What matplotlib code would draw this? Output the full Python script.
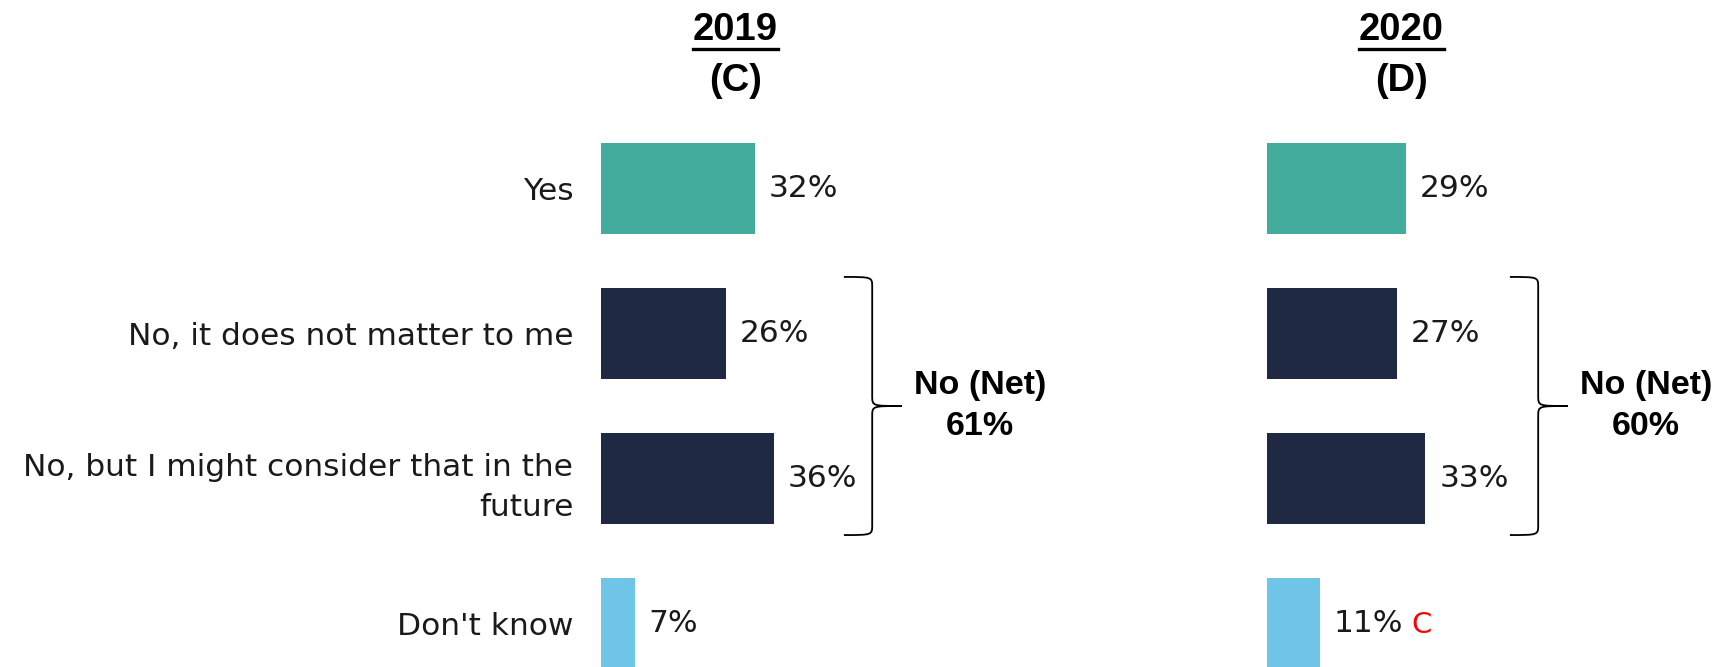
import matplotlib
matplotlib.use("Agg")
import matplotlib.pyplot as plt
from matplotlib.path import Path
from matplotlib.patches import PathPatch
from matplotlib.lines import Line2D

# donnees
categories = ["Yes", "No, it does not matter to me",
              "No, but I might consider that in the\nfuture", "Don't know"]
years = ["2019", "2020"]
codes = ["(C)", "(D)"]
vals_2019 = [32, 26, 36, 7]
vals_2020 = [29, 27, 33, 11]
net_2019 = 61
net_2020 = 60
colors = ["#43AC9C", "#202944", "#202944", "#6EC5E8"]

W, H = 1729, 667
fig = plt.figure(figsize=(W / 100, H / 100), dpi=100)

lab_font = ["DejaVu Sans"]
bold_font = ["Liberation Sans", "DejaVu Sans"]
lab_size = 22.5


def brace(ax, x0, xm, x1, yt, ym, yb, r=0.07):
    verts = [(x0, yt), (xm, yt), (xm, yt), (xm, yt + r),
             (xm, ym - r), (xm, ym), (xm, ym), (x1, ym),
             (xm, ym), (xm, ym), (xm, ym + r),
             (xm, yb - r), (xm, yb), (xm, yb), (x0, yb)]
    codes_ = [Path.MOVETO, Path.CURVE4, Path.CURVE4, Path.CURVE4,
              Path.LINETO, Path.CURVE4, Path.CURVE4, Path.CURVE4,
              Path.CURVE4, Path.CURVE4, Path.CURVE4,
              Path.LINETO, Path.CURVE4, Path.CURVE4, Path.CURVE4]
    ax.add_patch(PathPatch(Path(verts, codes_), fc="none", ec="black",
                           lw=1.3, clip_on=False))


pos = [0, 1, 2, 3]
lefts = [601, 1267]
titles = []
for k, (vals, net) in enumerate([(vals_2019, net_2019), (vals_2020, net_2020)]):
    ax = fig.add_axes([lefts[k] / W, -29 / H, 288 / W, 580 / H])
    bars = ax.barh(pos, vals, height=0.625, color=colors)
    ax.set_xlim(0, 60)
    ax.set_ylim(3.5, -0.5)
    for s in ax.spines.values():
        s.set_visible(False)
    ax.set_xticks([])
    lbls = ax.bar_label(bars, labels=[f"{v}%" for v in vals], padding=10,
                        fontsize=lab_size, family=lab_font, color="#1a1a1a")
    if k == 0:
        ax.set_yticks(pos)
        ax.set_yticklabels(categories, fontsize=lab_size, family=lab_font,
                           color="#1a1a1a", linespacing=1.5)
        ax.tick_params(axis="y", length=0, pad=20)
    else:
        ax.set_yticks([])
        # test de significativite vs 2019
        ax.annotate("C", xy=(1, 0.5), xycoords=lbls[3], xytext=(6, -1),
                    textcoords="offset points", va="center", ha="left",
                    fontsize=21, family=lab_font, color="red")

    brace(ax, 50.6, 56.5, 62.7, 0.61, 1.5, 2.39)
    ax.text(79, 1.5, f"No (Net)\n{net}%", ha="center", va="center",
            fontsize=24.5, fontweight="bold", family=bold_font,
            linespacing=1.45, clip_on=False)

    t = ax.text(28, -1.09, years[k], ha="center", va="center", fontsize=27.5,
                fontweight="bold", family=bold_font, clip_on=False)
    ax.text(28, -0.74, codes[k], ha="center", va="center", fontsize=27.5,
            fontweight="bold", family=bold_font, clip_on=False)
    titles.append(t)

# soulignement des annees
fig.canvas.draw()
r = fig.canvas.get_renderer()
for t in titles:
    bb = t.get_window_extent(r)
    y = (bb.y0 - 1) / H
    fig.add_artist(Line2D([bb.x0 / W, bb.x1 / W], [y, y], color="black", lw=2.4))

fig.savefig("out.png", dpi=100)
